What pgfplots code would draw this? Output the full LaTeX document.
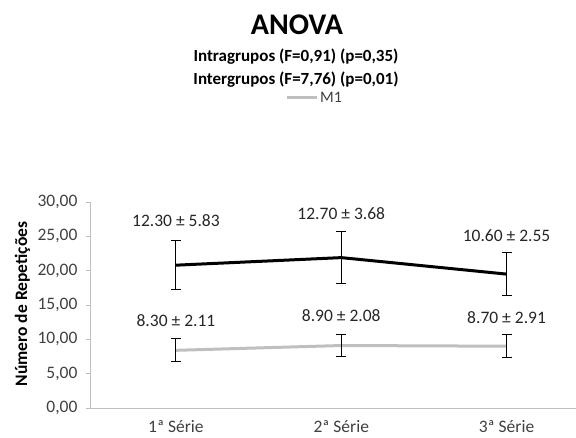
\documentclass[border=0pt]{standalone}
\usepackage{fontspec}
\setmainfont{Carlito}
\usepackage{pgfplots}
\pgfplotsset{compat=1.18}
\definecolor{lgray}{RGB}{191,191,191}
\definecolor{axgray}{RGB}{190,190,190}
\definecolor{txt}{RGB}{64,64,64}
\begin{document}
\begin{tikzpicture}[x=1pt,y=1pt]
\begin{axis}[
  at={(0,0)}, anchor=south west,
  width=486pt, height=206pt, scale only axis,
  xmin=-0.52, xmax=2.42, ymin=0, ymax=30,
  axis x line=bottom, axis y line=left,
  axis line style={draw=axgray, line width=0.8pt, -},
  xtick={0,1,2}, xticklabels={1ª Série,2ª Série,3ª Série},
  major x tick style={draw=none},
  ytick={0,5,...,30},
  major y tick style={draw=axgray, line width=0.8pt},
  tick align=outside, major tick length=4pt,
  /pgf/number format/assume math mode=true,
  yticklabel style={/pgf/number format/.cd, fixed, fixed zerofill, precision=2, use comma, /tikz/.cd, font=\fontsize{17.5}{17.5}\selectfont, text=txt, xshift=-5pt},
  xticklabel style={font=\fontsize{17.5}{17.5}\selectfont, text=txt, anchor=base, inner sep=0pt, yshift=-20pt},
  legend style={at={(0.462,1.505)}, anchor=center, draw=none, fill=none, font=\fontsize{16}{16}\selectfont, text=txt},
  legend image code/.code={\draw[#1, line width=3pt] (0pt,0pt) -- (30pt,0pt);},
]
\addplot[black, line width=3pt, forget plot,
  error bars/.cd, y dir=both, y explicit,
  error bar style={black, line width=1pt},
  error mark options={rotate=90, mark size=5pt, black, line width=1pt}]
  coordinates {(0,20.8) +- (0,3.6) (1,21.9) +- (0,3.8) (2,19.5) +- (0,3.15)};
\addplot[lgray, line width=3pt,
  error bars/.cd, y dir=both, y explicit,
  error bar style={black, line width=1pt},
  error mark options={rotate=90, mark size=5pt, black, line width=1pt}]
  coordinates {(0,8.4) +- (0,1.65) (1,9.1) +- (0,1.65) (2,9.0) +- (0,1.7)};
\addlegendentry{M1}
\tikzset{dl/.style={anchor=base, inner sep=0pt, font=\fontsize{17.5}{17.5}\selectfont, text=black!85}}
\node[dl] at (axis cs:0,26.5) {12.30 ± 5.83};
\node[dl] at (axis cs:1,27.4) {12.70 ± 3.68};
\node[dl] at (axis cs:2,24.25) {10.60 ± 2.55};
\node[dl] at (axis cs:0,11.9) {8.30 ± 2.11};
\node[dl] at (axis cs:1,12.65) {8.90 ± 2.08};
\node[dl] at (axis cs:2,12.3) {8.70 ± 2.91};
\end{axis}
\node[anchor=base, font=\bfseries\fontsize{30}{30}\selectfont, inner sep=0pt] at (207,373) {ANOVA};
\node[anchor=base, font=\bfseries\fontsize{17}{17}\selectfont, inner sep=0pt] at (206,346) {Intragrupos (F=0,91) (p=0,35)};
\node[anchor=base, font=\bfseries\fontsize{17}{17}\selectfont, inner sep=0pt] at (206,323) {Intergrupos (F=7,76) (p=0,01)};
\node[rotate=90, font=\bfseries\fontsize{17.5}{17.5}\selectfont, inner sep=0pt] at (-67.5,104) {Número de Repetições};
\pgfresetboundingbox
\path (-90,-29) rectangle (486,408);
\end{tikzpicture}
\end{document}
